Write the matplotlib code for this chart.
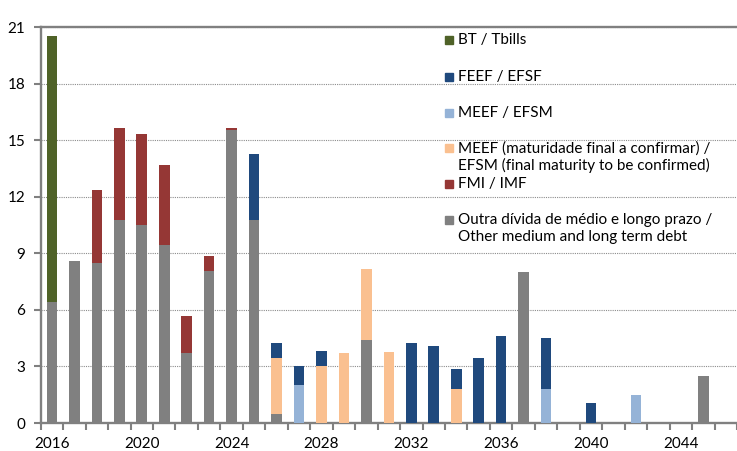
import numpy as np
import matplotlib
matplotlib.use('Agg')
import matplotlib.pyplot as plt
from matplotlib.patches import Rectangle

# data (EUR bn)
years = list(range(2016, 2047))
outra = [6.42, 8.57, 8.50, 10.77, 10.48, 9.42, 3.71, 8.04, 15.52, 10.77,
         0.48, 0, 0, 0, 4.38, 0, 0, 0, 0, 0,
         0, 8.01, 0, 0, 0, 0, 0, 0, 0, 2.47, 0]
efsm = [0, 0, 0, 0, 0, 0, 0, 0, 0, 0,
        0, 2.03, 0, 0, 0, 0, 0, 0, 0, 0,
        0, 0, 1.80, 0, 0, 0, 1.47, 0, 0, 0, 0]
efsm_tbc = [0, 0, 0, 0, 0, 0, 0, 0, 0, 0,
            2.98, 0, 3.02, 3.73, 3.77, 3.77, 0, 0, 1.82, 0,
            0, 0, 0, 0, 0, 0, 0, 0, 0, 0, 0]
efsf = [0, 0, 0, 0, 0, 0, 0, 0, 0, 3.52,
        0.81, 1.01, 0.80, 0, 0, 0, 4.24, 4.07, 1.06, 3.45,
        4.63, 0, 2.73, 0, 1.08, 0, 0, 0, 0, 0, 0]
imf = [0, 0, 3.86, 4.86, 4.86, 4.26, 1.96, 0.81, 0.14, 0,
       0, 0, 0, 0, 0, 0, 0, 0, 0, 0,
       0, 0, 0, 0, 0, 0, 0, 0, 0, 0, 0]
tbills = [14.10] + [0] * 30

series = [
    (outra, '#808080', 'Outra dívida de médio e longo prazo /\nOther medium and long term debt'),
    (efsm, '#95B3D7', 'MEEF / EFSM'),
    (efsm_tbc, '#FAC090', 'MEEF (maturidade final a confirmar) /\nEFSM (final maturity to be confirmed)'),
    (efsf, '#1F497D', 'FEEF / EFSF'),
    (imf, '#953735', 'FMI / IMF'),
    (tbills, '#4F6228', 'BT / Tbills'),
]
legend_order = ['BT / Tbills', 'FEEF / EFSF', 'MEEF / EFSM',
                'MEEF (maturidade final a confirmar) /\nEFSM (final maturity to be confirmed)',
                'FMI / IMF',
                'Outra dívida de médio e longo prazo /\nOther medium and long term debt']

plt.rcParams['font.family'] = ['Lato', 'DejaVu Sans']

fig = plt.figure(figsize=(7.37, 4.51), dpi=100)
ax = fig.add_axes([0.0552, 0.062, 1.0 - 0.0552, 0.878])

x = np.arange(len(years))
bottom = np.zeros(len(years))
for vals, color, label in series:
    vals = np.array(vals, dtype=float)
    ax.bar(x, vals, width=0.47, bottom=bottom, color=color, zorder=3)
    bottom += vals

ax.set_xlim(-0.5, 30.27)
ax.set_ylim(0, 21)
ax.set_yticks(range(0, 22, 3))
ax.yaxis.grid(True, color='#8c8c8c', linestyle=(0, (1, 1)), linewidth=0.8, zorder=0)

ax.set_xticks(x[::4])
ax.set_xticklabels([str(y) for y in years[::4]])
ax.set_xticks(np.arange(len(years) + 1) - 0.5, minor=True)
ax.tick_params(axis='x', which='major', length=0, pad=10, labelsize=11)
ax.tick_params(axis='x', which='minor', length=5, width=1.5, color='#808080')
ax.tick_params(axis='y', length=5, width=1.5, color='#808080', labelsize=11, pad=6)

for side in ['left', 'top', 'bottom']:
    ax.spines[side].set_color('#808080')
    ax.spines[side].set_linewidth(1.7)
ax.spines['right'].set_visible(False)

# legend, Excel style: fixed row spacing
colors = {label: color for _, color, label in series}
ys = [40, 77, 113, 148, 184, 220]
for label, ypx in zip(legend_order, ys):
    yf = 1 - ypx / 451
    fig.patches.append(Rectangle((445 / 737, yf - 4 / 451), 8 / 737, 8 / 451,
                                 transform=fig.transFigure, color=colors[label]))
    fig.text(458 / 737, yf + 7 / 451, label, fontsize=11, va='top', ha='left',
             linespacing=1.25)

fig.savefig('out.png', dpi=100)
